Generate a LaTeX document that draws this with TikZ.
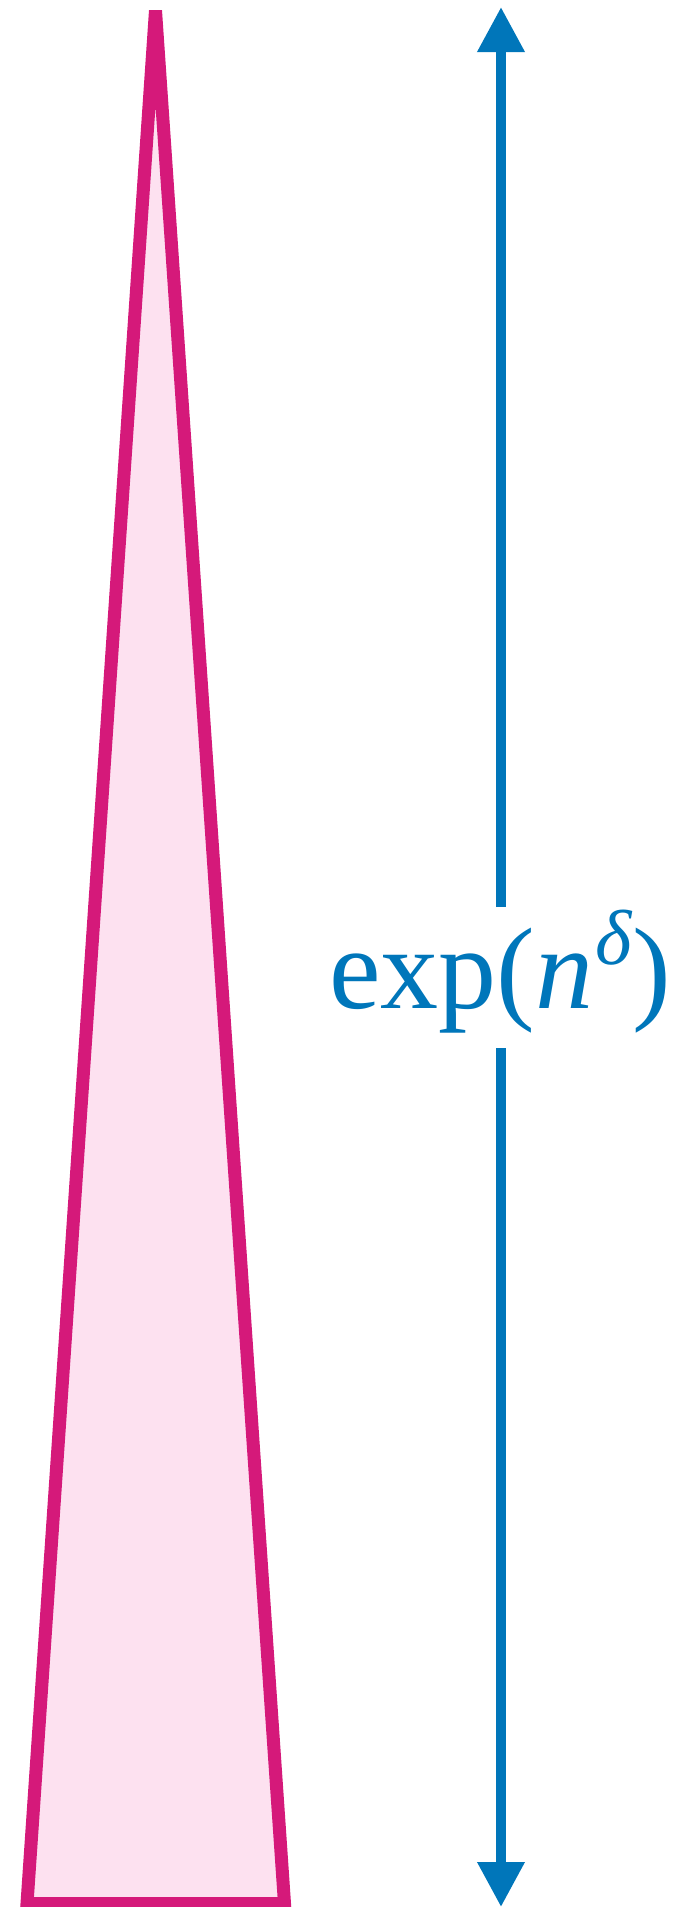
\documentclass[tikz,border=0pt]{standalone}
\usepackage{fontspec}
\setmainfont{Liberation Serif}
\usetikzlibrary{arrows.meta}
\definecolor{pinkline}{RGB}{213,25,122}
\definecolor{pinkfill}{RGB}{253,225,240}
\definecolor{blueline}{RGB}{0,118,186}
\tikzset{
  spike/.style={draw=pinkline, fill=pinkfill, line width=13pt},
  bigarrow/.style={draw=blueline, line width=10pt, -{Triangle[length=45pt,width=45pt]}},
  lbl/.style={text=blueline, inner sep=0pt, anchor=base west, font=\fontsize{116}{116}\selectfont}
}
\begin{document}
\begin{tikzpicture}[x=1pt,y=-1pt]
\useasboundingbox (0,0) rectangle (682,1907);
\coordinate (bl) at (27,1903.5);
\coordinate (ap) at (155.5,10.5);
\coordinate (br) at (284.5,1903.5);
\draw[spike] (bl) -- (ap) -- (br) -- cycle;
\coordinate (tipTop) at (501,7);
\coordinate (tipBot) at (501,1907);
\coordinate (a1) at (501,907);
\coordinate (a2) at (501,1048);
\draw[bigarrow] (a1) -- (tipTop);
\draw[bigarrow] (a2) -- (tipBot);
\node[lbl] (label) at (329,1008) {exp(\textit{n}\kern2pt\raisebox{44pt}{\fontsize{78}{78}\selectfont\textit{δ}})};
\end{tikzpicture}
\end{document}
